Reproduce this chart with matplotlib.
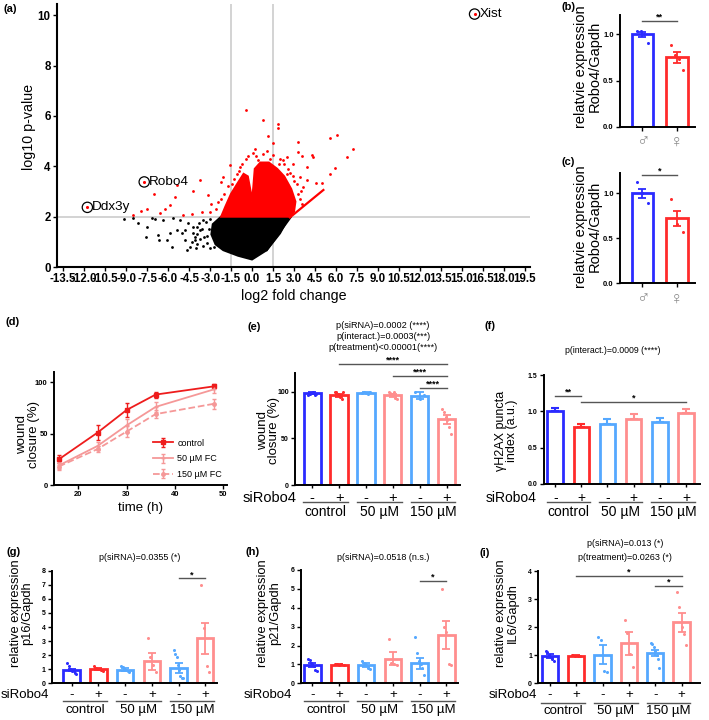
import numpy as np
import matplotlib
matplotlib.use('Agg')
import matplotlib.pyplot as plt

plt.rcParams['font.family'] = ['Liberation Sans', 'DejaVu Sans']
plt.rcParams['axes.unicode_minus'] = False

# ---------------- DATA ----------------
# (a) volcano plot
volc_xticks = np.arange(-13.5, 19.6, 1.5)
volc_yticks = [0, 2, 4, 6, 8, 10]
black_poly_x = [-2.2, 2.65, 2.0, 1.05, 0.0, -1.0, -2.05, -2.6, -2.9, -2.8]
black_poly_y = [2.0, 2.0, 1.34, 0.67, 0.3, 0.45, 0.67, 0.9, 1.3, 1.7]
black_diag_x = [1.05, 2.75]
black_diag_y = [0.67, 1.97]
red_poly_x = [-2.2, -1.9, -1.5, -1.0, -0.6, -0.3, -0.1, 0.0, 0.1, 0.2, 0.6, 1.2, 1.8, 2.3, 2.8, 3.1, 3.0, 2.7]
red_poly_y = [2.0, 2.4, 2.9, 3.35, 3.7, 3.6, 3.0, 2.6, 3.2, 3.9, 4.15, 4.15, 3.9, 3.6, 3.1, 2.6, 2.2, 2.0]
red_diag_x = [2.71, 5.1]
red_diag_y = [1.97, 3.06]
red_x = [-0.43, 0.81, 1.88, 1.88, 1.12, 1.52, 3.31, 5.57, 6.05, 7.24, 6.76, 0.21, 0.1, -0.31,
         -1.57, -0.86, -3.71, -2.1, -2.19, -4.19, -3.12, -5.38, -7.0, -5.5, -5.86, -6.21, -6.57,
         -7.52, -7.95, -8.48, -3.6, -4.31, -4.95, 5.93, 5.57, 4.57, 5.02, 4.38, 4.26, 3.9, 3.31,
         3.55, 2.95, 2.48, 2.24, 2.71, 3.43, 3.9, 3.26, 2.95, 3.67,
         -2.6, -2.4, -2.0, -1.7, -1.3, -0.9, -0.7, -0.4, 0.3, 0.8, 1.1, 1.5, 2.0, 2.3, 2.6, 2.9,
         3.2, 3.5, 3.4, 3.6, -3.0, -2.9, 0.4, 1.3, 1.9, 2.5, 3.0, -1.1, -1.4, -2.2]
red_y = [6.23, 5.83, 5.67, 5.54, 5.22, 4.91, 4.97, 5.11, 5.26, 4.67, 4.38, 4.68, 4.51, 4.42,
         4.07, 3.98, 3.45, 3.58, 3.39, 3.02, 2.86, 3.25, 2.92, 2.79, 2.46, 2.29, 2.13,
         2.29, 2.24, 2.06, 2.2, 2.09, 2.06, 3.92, 3.69, 3.32, 3.32, 4.38, 4.44, 3.98, 4.58,
         4.4, 4.11, 4.38, 4.25, 3.72, 3.58, 3.45, 2.92, 2.66, 3.19,
         2.3, 2.6, 2.9, 3.2, 3.5, 3.8, 4.1, 4.3, 4.4, 4.5, 4.6, 4.45, 4.3, 4.1, 3.9, 3.6,
         3.3, 3.0, 2.7, 2.5, 2.2, 2.5, 4.25, 4.3, 4.1, 3.7, 3.4, 3.7, 3.3, 2.7]
black_x = [-9.14, -8.48, -8.12, -7.52, -7.6, -7.17, -6.93, -6.69, -6.33, -6.62, -5.74, -6.1,
           -5.62, -5.86, -5.38, -5.02, -4.79, -5.14, -4.55, -4.43, -4.19, -3.95, -4.67, -3.71,
           -4.07, -3.48, -4.79,
           -4.3, -4.1, -3.9, -3.7, -3.5, -3.4, -3.2, -3.1, -3.3, -3.6, -3.9, -4.2, -3.0, -2.7,
           -3.0, -4.0, -3.8, -3.2]
black_y = [1.92, 1.93, 1.73, 1.6, 1.18, 1.93, 1.9, 1.27, 1.87, 1.07, 0.78, 1.07,
           1.93, 1.34, 1.47, 1.34, 1.07, 1.87, 1.73, 0.81, 1.34, 1.6, 0.67, 1.47,
           1.07, 1.87, 1.47,
           1.0, 1.2, 0.9, 1.1, 0.85, 1.2, 0.95, 1.5, 1.8, 1.5, 1.3, 1.6, 1.9, 0.8,
           0.75, 0.75, 1.75, 1.25]
genes = ['Xist', 'Robo4', 'Ddx3y']
gene_x = [15.9, -7.7, -11.76]
gene_y = [10.05, 3.38, 2.37]

# (b), (c) sex comparison
sex_labels = ['\u2642', '\u2640']
b_means = [1.0, 0.75]
b_sems = [0.03, 0.06]
b_pts = [[1.04, 1.04, 1.0, 0.91], [0.88, 0.78, 0.73, 0.61]]
c_means = [1.0, 0.72]
c_sems = [0.05, 0.08]
c_pts = [[1.12, 1.0, 0.89], [0.94, 0.66, 0.57]]

# (d) wound closure time course
time_h = [16, 24, 30, 36, 48]
ctrl_mean = [25, 51, 73, 88, 96]
ctrl_err = [4, 7, 7, 3, 2]
fc50_mean = [19, 38, 58, 76, 93]
fc50_err = [3, 4, 6, 5, 3]
fc150_mean = [18, 35, 52, 69, 79]
fc150_err = [3, 3, 5, 4, 5]

# bar panels (e)-(i)
sign_labels = ['-', '+', '-', '+', '-', '+']
group_labels = ['control', '50 \u00b5M', '150 \u00b5M']
e_means = [98.5, 96.5, 99, 96.5, 96, 70.5]
e_sems = [1, 1.5, 0.5, 1.7, 3.8, 4.5]
e_pts = [[97, 98, 99, 100, 97, 98], [100, 100, 98, 95, 92, 100], [99, 100, 99, 98, 100],
         [100, 99, 98, 100, 94, 92], [100, 92, 97], [82, 78, 73, 70, 62, 55]]
f_means = [1.0, 0.78, 0.83, 0.9, 0.86, 0.98]
f_sems = [0.05, 0.04, 0.065, 0.06, 0.055, 0.05]
g_means = [0.95, 1.03, 0.98, 1.55, 1.1, 3.2]
g_sems = [0.1, 0.05, 0.08, 0.6, 0.35, 1.1]
g_pts = [[1.45, 1.2, 1.05, 0.95, 0.9, 0.85, 0.75, 0.65], [1.25, 1.1, 1.05, 1.0, 0.95, 0.9],
         [1.2, 1.15, 1.05, 0.95, 0.85, 0.8], [3.2, 1.9, 1.3, 0.8],
         [2.35, 2.1, 1.85, 1.3, 0.95, 0.5, 0.35, 0.4], [7.0, 3.9, 1.23, 0.83]]
h_means = [0.95, 0.98, 0.95, 1.3, 1.05, 2.55]
h_sems = [0.1, 0.03, 0.1, 0.35, 0.3, 0.75]
h_pts = [[1.3, 1.25, 1.1, 1.0, 0.9, 0.7, 0.65], [1.0, 1.0, 0.98, 1.0, 0.97],
         [1.2, 1.05, 0.95, 0.8, 0.75], [2.35, 1.1, 1.0, 0.95],
         [2.45, 1.6, 1.2, 1.0, 0.8, 0.45], [5.0, 3.0, 2.7, 1.0, 0.95]]
i_means = [0.97, 0.98, 1.02, 1.42, 1.08, 2.17]
i_sems = [0.06, 0.02, 0.33, 0.4, 0.12, 0.35]
i_pts = [[1.15, 1.1, 1.0, 0.95, 0.85, 0.8], [1.0, 0.99, 0.97, 0.96], [1.65, 1.55, 0.45, 0.4],
         [2.25, 1.8, 1.05, 0.57], [1.45, 1.4, 1.3, 1.15, 1.0, 0.85, 0.55],
         [3.25, 2.7, 2.02, 1.75, 1.35]]

# significance brackets (x1, x2, y, label)
b_sig = [(0, 1, 1.15, '**')]
c_sig = [(0, 1, 1.2, '*')]
e_sig = [(1, 5, 130, '****'), (3, 5, 116.8, '****'), (4, 5, 104.3, '****')]
f_sig = [(0, 1, 1.207, '**'), (1, 5, 1.124, '*')]
g_sig = [(4, 5, 7.45, '*')]
h_sig = [(4, 5, 5.43, '*')]
i_sig = [(1, 5, 3.82, '*'), (4, 5, 3.48, '*')]

# ---------------- STYLE ----------------
BLUE = '#2b2bff'
RED = '#ff2b2b'
LBLUE = '#55a8ff'
SALMON = '#ff8e8e'
cond_colors = [BLUE, RED, LBLUE, SALMON, LBLUE, SALMON]

W, H = 709, 720
fig = plt.figure(figsize=(W / 100, H / 100), dpi=100)


def pax(x0, y0, x1, y1):
    return fig.add_axes([x0 / W, 1 - y1 / H, (x1 - x0) / W, (y1 - y0) / H])


def ftext(x, y, s, **kw):
    return fig.text(x / W, 1 - y / H, s, **kw)


def style_axes(ax, lw=1.4, lsize=5.5):
    for s in ['top', 'right']:
        ax.spines[s].set_visible(False)
    for s in ['left', 'bottom']:
        ax.spines[s].set_linewidth(lw)
    ax.tick_params(width=1, length=3, labelsize=lsize, pad=1.5)
    for lbl in ax.get_yticklabels() + ax.get_xticklabels():
        lbl.set_fontweight('bold')


def sig(ax, items, fs=6.5):
    for x1, x2, y, s in items:
        ax.plot([x1, x2], [y, y], color='#555555', lw=1, clip_on=False)
        ax.annotate(s, xy=((x1 + x2) / 2, y), xytext=(0, -0.5), textcoords='offset points',
                    ha='center', va='bottom', fontsize=fs, fontweight='bold', annotation_clip=False)


def bars(ax, means, sems, pts, cols, width=0.62, upper_only=False):
    for i, (m, s, c) in enumerate(zip(means, sems, cols)):
        ax.bar(i, m, width=width, facecolor='white', edgecolor=c, linewidth=2, zorder=2)
        if upper_only:
            ax.errorbar(i, m, yerr=[[0], [s]], color=c, capsize=3, elinewidth=1.5, capthick=1.5, zorder=3)
        else:
            ax.errorbar(i, m, yerr=s, color=c, capsize=3, elinewidth=1.3, capthick=1.3, zorder=3)
        if pts is not None:
            p = pts[i]
            n = len(p)
            off = np.linspace(-0.16, 0.16, n) if n > 1 else np.array([0.0])
            ax.plot(i + off, p, 'o', color=c, ms=2.2, mew=0, zorder=4, clip_on=False)


def groups(ax, ax_top, ax_bot, pm_dy, line_dy, lab_dy, siro_x, fs_pm=10, fs_lab=10):
    axh = ax_bot - ax_top
    tr = ax.get_xaxis_transform()
    ax.set_xticks(range(6))
    ax.set_xticklabels([])
    ax.tick_params(axis='x', length=2.5)
    for k, s in enumerate(sign_labels):
        ax.text(k, -pm_dy / axh, s, transform=tr, ha='center', va='center', fontsize=fs_pm)
    for k, lab in enumerate(group_labels):
        ax.plot([2 * k - 0.33, 2 * k + 1.33], [-line_dy / axh] * 2, color='#555555', lw=1,
                transform=tr, clip_on=False)
        ax.text(2 * k + 0.5, -lab_dy / axh, lab, transform=tr, ha='center', va='center', fontsize=fs_lab)
    ax.text(siro_x, -pm_dy / axh, 'siRobo4', transform=tr, ha='center', va='center', fontsize=fs_pm)


# ---------------- (a) volcano ----------------
ax = pax(57, 4, 530, 267)
ax.axvline(-1.5, color='#d0d0d0', lw=1.3, zorder=0)
ax.axvline(1.5, color='#d0d0d0', lw=1.3, zorder=0)
ax.axhline(2.0, color='#d0d0d0', lw=1.3, zorder=0)
ax.fill(black_poly_x, black_poly_y, facecolor='black', edgecolor='black', lw=1.5, zorder=1)
ax.plot(black_diag_x, black_diag_y, color='black', lw=1.5, zorder=1)
ax.fill(red_poly_x, red_poly_y, facecolor='red', edgecolor='red', lw=1.5, zorder=2)
ax.plot(red_diag_x, red_diag_y, color='red', lw=1.6, zorder=2)
ax.scatter(red_x, red_y, s=4, c='red', lw=0, zorder=3)
ax.scatter(black_x, black_y, s=4, c='black', lw=0, zorder=3)
ax.scatter(gene_x, gene_y, s=5, c='red', lw=0, zorder=4, clip_on=False)
ax.scatter(gene_x, gene_y, s=55, facecolors='none', edgecolors='black', lw=0.9, zorder=4, clip_on=False)
for g, gx, gy in zip(genes, gene_x, gene_y):
    ax.annotate(g, xy=(gx, gy), xytext=(3.5, 0), textcoords='offset points', ha='left', va='center',
                fontsize=9.7, annotation_clip=False)
ax.set_xlim(-13.93, 19.86)
ax.set_ylim(0, 10.45)
ax.set_xticks(volc_xticks)
ax.set_xticklabels(['%.1f' % v for v in volc_xticks])
ax.set_yticks(volc_yticks)
style_axes(ax, lw=1.5, lsize=8.3)
ax.set_xlabel('log2 fold change', fontsize=10.3, labelpad=3)
ftext(29, 127, 'log10 p-value', rotation=90, ha='center', va='center', fontsize=10.3)
ftext(3, 9, '(a)', fontsize=8, fontweight='bold', ha='left', va='center')

# ---------------- (b) / (c) ----------------
for (y0, y1, top, means, sems, pts, sg, lab, ly, lcy) in [
        (15, 126.7, 1.21, b_means, b_sems, b_pts, b_sig, '(b)', 7, 66.7),
        (173, 283.3, 1.225, c_means, c_sems, c_pts, c_sig, '(c)', 162, 226.7)]:
    ax = pax(620, y0, 695, y1)
    bars(ax, means, sems, pts, [BLUE, RED], width=0.63)
    ax.set_xlim(-0.65, 1.52)
    ax.set_ylim(0, top)
    ax.set_yticks([0, 0.5, 1.0])
    ax.set_yticklabels(['0.0', '0.5', '1.0'])
    ax.set_xticks([0, 1])
    ax.set_xticklabels(sex_labels)
    style_axes(ax, lsize=5.5)
    ax.tick_params(axis='x', labelsize=13, labelcolor='#8a8a8a', pad=2)
    for t in ax.get_xticklabels():
        t.set_fontweight('normal')
    sig(ax, sg)
    ftext(588, lcy, 'relatvie expression\nRobo4/Gapdh', rotation=90, ha='center',
          va='center', fontsize=10.5, linespacing=0.95)
    ftext(562, ly, lab, fontsize=8, fontweight='bold', ha='left', va='center')

# ---------------- (d) ----------------
ax = pax(54, 372, 226.7, 485)
ax.errorbar(time_h, ctrl_mean, yerr=ctrl_err, color='#ee1c1c', lw=1.3, marker='s', ms=2.5,
            capsize=1.5, elinewidth=1, label='control')
ax.errorbar(time_h, fc50_mean, yerr=fc50_err, color='#f59898', lw=1.3, marker='+', ms=3.5,
            capsize=1.5, elinewidth=1, label='50 \u00b5M FC')
ax.errorbar(time_h, fc150_mean, yerr=fc150_err, color='#f59898', lw=1.3, ls='--', marker='o', ms=2.5,
            capsize=1.5, elinewidth=1, label='150 \u00b5M FC')
ax.set_xlim(15, 50.7)
ax.set_ylim(0, 110)
ax.set_xticks([20, 30, 40, 50])
ax.set_yticks([0, 50, 100])
style_axes(ax, lsize=5.5)
leg = ax.legend(loc='lower right', bbox_to_anchor=(1.02, -0.02), frameon=False, fontsize=6.5,
                handlelength=2.2, labelspacing=0.75, handletextpad=0.5)
ftext(28, 435, 'wound\nclosure (%)', rotation=90, ha='center', va='center', fontsize=9.5, linespacing=0.95)
ftext(140, 508, 'time (h)', ha='center', va='center', fontsize=9.5)
ftext(5, 322, '(d)', fontsize=8, fontweight='bold', ha='left', va='center')

# ---------------- (e) ----------------
ax = pax(295, 373.3, 460, 485)
bars(ax, e_means, e_sems, e_pts, cond_colors, width=0.64)
ax.set_xlim(-0.64, 5.5)
ax.set_ylim(0, 120)
ax.set_yticks([0, 50, 100])
style_axes(ax, lsize=5)
groups(ax, 373.3, 485, 12.7, 17, 27, -1.6, fs_pm=10.5, fs_lab=10)
sig(ax, e_sig)
ftext(383, 326, 'p(siRNA)=0.0002 (****)', ha='center', va='center', fontsize=6.6)
ftext(383, 336.7, 'p(interact.)=0.0003(***)', ha='center', va='center', fontsize=6.6)
ftext(383, 347.7, 'p(treatment)<0.00001(****)', ha='center', va='center', fontsize=6.6)
ftext(268.5, 430, 'wound\nclosure (%)', rotation=90, ha='center', va='center', fontsize=9.5, linespacing=0.95)
ftext(247, 327, '(e)', fontsize=8, fontweight='bold', ha='left', va='center')

# ---------------- (f) ----------------
ax = pax(544, 375, 700, 484)
bars(ax, f_means, f_sems, None, cond_colors, width=0.6, upper_only=True)
ax.set_xlim(-0.43, 5.54)
ax.set_ylim(0, 1.5)
ax.set_yticks([0, 0.5, 1.0, 1.5])
ax.set_yticklabels(['0.0', '0.5', '1.0', '1.5'])
style_axes(ax, lsize=5)
groups(ax, 375, 484, 13.7, 18.3, 27.7, -1.67, fs_pm=10, fs_lab=10)
sig(ax, f_sig)
ftext(613, 350.7, 'p(interact.)=0.0009 (****)', ha='center', va='center', fontsize=6.3)
ftext(506.7, 430.7, '\u03b3H2AX puncta\nindex (a.u.)', rotation=90, ha='center', va='center',
      fontsize=9, linespacing=0.95)
ftext(484, 326, '(f)', fontsize=8, fontweight='bold', ha='left', va='center')

# ---------------- (g) ----------------
ax = pax(51.7, 570.7, 216.7, 683.3)
bars(ax, g_means, g_sems, g_pts, cond_colors, width=0.62)
ax.set_xlim(-0.75, 5.43)
ax.set_ylim(0, 8)
ax.set_yticks(range(9))
style_axes(ax, lsize=5)
groups(ax, 570.7, 683.3, 11.7, 17.4, 26.7, -1.75, fs_pm=9.5, fs_lab=9.5)
sig(ax, g_sig)
ftext(140, 557.7, 'p(siRNA)=0.0355 (*)', ha='center', va='center', fontsize=6.5)
ftext(21.3, 613, 'relative expression\np16/Gapdh', rotation=90, ha='center', va='center',
      fontsize=9.3, linespacing=0.95)
ftext(6, 552, '(g)', fontsize=8, fontweight='bold', ha='left', va='center')

# ---------------- (h) ----------------
ax = pax(300.7, 570, 458, 683.3)
bars(ax, h_means, h_sems, h_pts, cond_colors, width=0.62)
ax.set_xlim(-0.44, 5.43)
ax.set_ylim(0, 6)
ax.set_yticks(range(7))
style_axes(ax, lsize=5)
groups(ax, 570, 683.3, 11.7, 17.4, 26.7, -1.65, fs_pm=9.5, fs_lab=9.5)
sig(ax, h_sig)
ftext(383, 557.7, 'p(siRNA)=0.0518 (n.s.)', ha='center', va='center', fontsize=6.5)
ftext(269, 613, 'relative expression\np21/Gapdh', rotation=90, ha='center', va='center',
      fontsize=9.3, linespacing=0.95)
ftext(245, 552, '(h)', fontsize=8, fontweight='bold', ha='left', va='center')

# ---------------- (i) ----------------
ax = pax(538.3, 571, 700, 683.3)
bars(ax, i_means, i_sems, i_pts, cond_colors, width=0.62)
ax.set_xlim(-0.44, 5.7)
ax.set_ylim(0, 4)
ax.set_yticks(range(5))
style_axes(ax, lsize=5)
groups(ax, 571, 683.3, 11.7, 19.4, 27.7, -1.42, fs_pm=9.5, fs_lab=9.5)
sig(ax, i_sig)
ftext(625, 543.3, 'p(siRNA)=0.013 (*)', ha='center', va='center', fontsize=6.5)
ftext(625, 557.3, 'p(treatment)=0.0263 (*)', ha='center', va='center', fontsize=6.5)
ftext(506.7, 613, 'relative expression\nIL6/Gapdh', rotation=90, ha='center', va='center',
      fontsize=9.3, linespacing=0.95)
ftext(480, 553, '(i)', fontsize=8, fontweight='bold', ha='left', va='center')

fig.savefig('out.png', dpi=100)
